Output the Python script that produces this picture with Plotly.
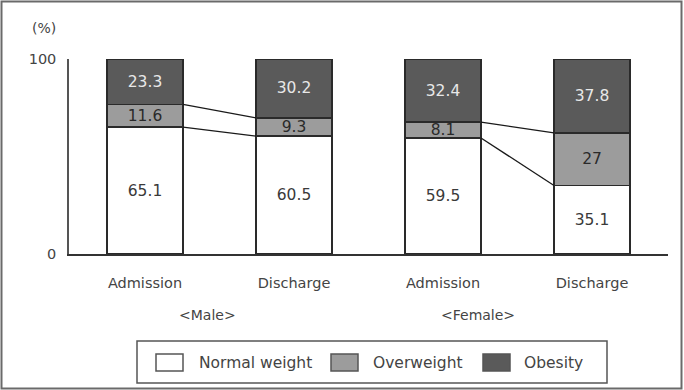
import plotly.graph_objects as go

categories = ["Admission", "Discharge", "Admission", "Discharge"]
groups = ["<Male>", "<Female>"]
series_names = ["Normal weight", "Overweight", "Obesity"]
normal = [65.1, 60.5, 59.5, 35.1]
overweight = [11.6, 9.3, 8.1, 27.0]
obesity = [23.3, 30.2, 32.4, 37.8]
labels_normal = ["65.1", "60.5", "59.5", "35.1"]
labels_over = ["11.6", "9.3", "8.1", "27"]
labels_obes = ["23.3", "30.2", "32.4", "37.8"]
y_ticks = [0, 100]

FONT = "DejaVu Sans"
TXT = "#444444"
colors = ["#ffffff", "#9c9c9c", "#5a5a5a"]
text_colors = ["#3a3a3a", "#2a2a2a", "#e8e8e8"]
W = 0.51
xpos = list(range(len(categories)))

fig = go.Figure()
for name, vals, labs, col, tcol in zip(series_names, [normal, overweight, obesity],
                                       [labels_normal, labels_over, labels_obes], colors, text_colors):
    fig.add_trace(go.Bar(
        x=xpos, y=vals, name=name, width=W, text=labs,
        textposition="inside", insidetextanchor="middle",
        textfont=dict(family=FONT, size=15.5, color=tcol),
        marker=dict(color=col, line=dict(color="#2a2a2a", width=1.5)),
        showlegend=False, hoverinfo="y",
    ))

# connecting lines between admission and discharge within each group
for g in range(2):
    a, d = 2 * g, 2 * g + 1
    lvl1 = [normal[a], normal[d]]
    lvl2 = [normal[a] + overweight[a], normal[d] + overweight[d]]
    for lv in (lvl1, lvl2):
        fig.add_trace(go.Scatter(
            x=[a + W / 2, d - W / 2], y=lv, mode="lines",
            line=dict(color="#1a1a1a", width=1.3), showlegend=False, hoverinfo="skip",
        ))

L, R, T, B = 69, 16, 59, 136
PW, PH = 684 - L - R, 390 - T - B

def px(x):
    return (x - L) / PW

def py(y):
    return (390 - B - y) / PH

shapes = [
    dict(type="rect", xref="paper", yref="paper", x0=px(1.5), x1=px(681.5), y0=py(388.5), y1=py(1.5),
         line=dict(color="#6a6a6a", width=2), layer="below"),
    dict(type="rect", xref="paper", yref="paper", x0=px(137), x1=px(607), y0=py(383), y1=py(341),
         line=dict(color="#555555", width=1.5)),
]
annotations = []
leg_x = [156, 331, 483]
txt_x = [197, 371, 522]
for i, name in enumerate(series_names):
    shapes.append(dict(type="rect", xref="paper", yref="paper",
                       x0=px(leg_x[i]), x1=px(leg_x[i] + 27), y0=py(371), y1=py(354),
                       fillcolor=colors[i], line=dict(color="#555555", width=1.5)))
    annotations.append(dict(xref="paper", yref="paper", x=px(txt_x[i]), y=py(362.5),
                            text=name, showarrow=False, xanchor="left", yanchor="middle",
                            font=dict(family=FONT, size=15.5, color=TXT)))

annotations.append(dict(xref="paper", yref="paper", x=px(44), y=py(28.5), text="(%)",
                        showarrow=False, xanchor="center", yanchor="middle",
                        font=dict(family=FONT, size=14, color=TXT)))
group_x = [207, 478]
for gx, gname in zip(group_x, groups):
    annotations.append(dict(xref="paper", yref="paper", x=px(gx), y=py(315), text=gname,
                            showarrow=False, xanchor="center", yanchor="middle",
                            font=dict(family=FONT, size=14, color=TXT)))

fig.update_layout(
    width=684, height=390, margin=dict(l=L, r=R, t=T, b=B),
    plot_bgcolor="white", paper_bgcolor="white",
    barmode="stack", showlegend=False,
    uniformtext=dict(minsize=15.5, mode="show"),
    shapes=shapes, annotations=annotations,
    xaxis=dict(range=[-0.51, 3.51], tickvals=xpos, ticktext=categories, showgrid=False,
               zeroline=False, showline=True, linecolor="#333333", linewidth=1.5,
               ticks="", ticklabelstandoff=15,
               tickfont=dict(family=FONT, size=14.5, color=TXT)),
    yaxis=dict(range=[0, 100], tickvals=y_ticks, showgrid=False, zeroline=False,
               showline=True, linecolor="#555555", linewidth=1.5, ticks="",
               ticklabelstandoff=8, tickfont=dict(family=FONT, size=14.5, color=TXT)),
)

fig.write_html("out.html")
